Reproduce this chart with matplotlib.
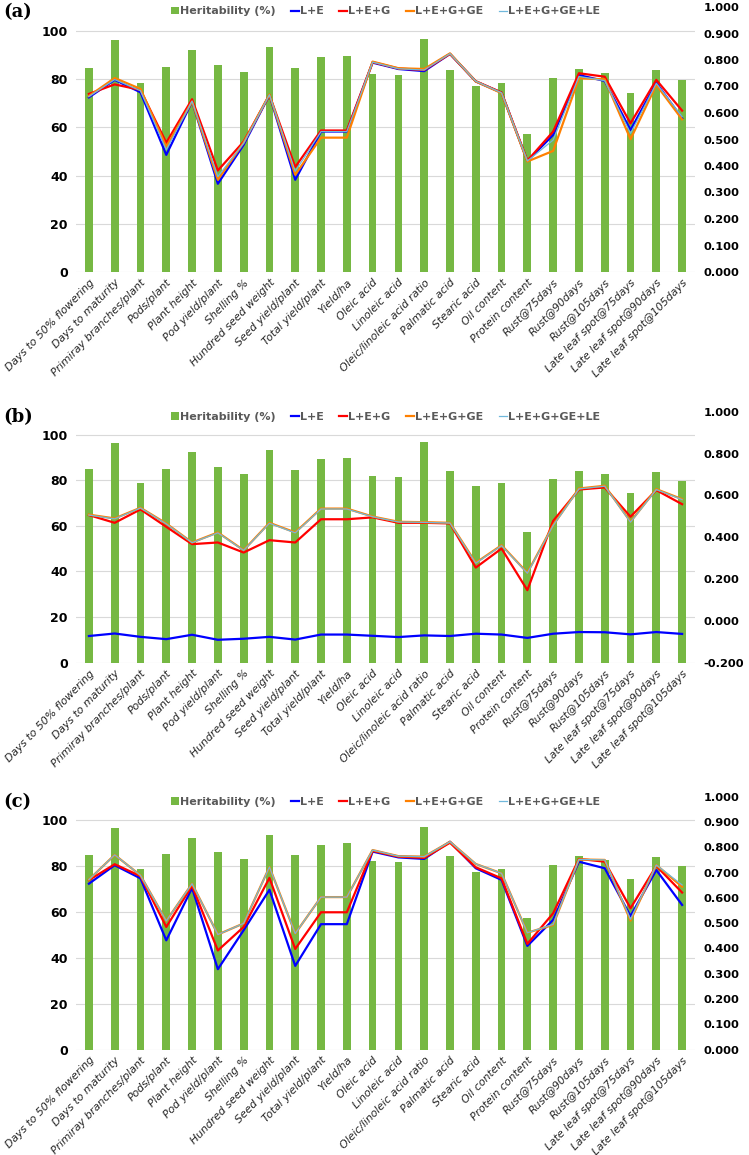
import numpy as np
import matplotlib
matplotlib.use("Agg")
import matplotlib.pyplot as plt
from matplotlib.ticker import FixedLocator, FormatStrFormatter

# Traits (x axis)
traits = ["Days to 50% flowering", "Days to maturity", "Primiray branches/plant",
          "Pods/plant", "Plant height", "Pod yield/plant", "Shelling %",
          "Hundred seed weight", "Seed yield/plant", "Total yield/plant", "Yield/ha",
          "Oleic acid", "Linoleic acid", "Oleic/linoleic acid ratio", "Palmatic acid",
          "Stearic acid", "Oil content", "Protein content", "Rust@75days",
          "Rust@90days", "Rust@105days", "Late leaf spot@75days",
          "Late leaf spot@90days", "Late leaf spot@105days"]

# Heritability (%) - same in every panel
heritability = [84.7, 96.5, 78.6, 84.9, 92.2, 85.8, 82.9, 93.4, 84.5, 89.2, 89.8, 82.0,
                81.6, 96.7, 84.0, 77.4, 78.6, 57.3, 80.4, 84.1, 82.6, 74.4, 83.8, 79.7]

# panel (a)
a_le = [0.659, 0.725, 0.678, 0.442, 0.643, 0.333, 0.480, 0.668, 0.348, 0.530, 0.530, 0.790,
        0.766, 0.758, 0.823, 0.719, 0.677, 0.419, 0.517, 0.743, 0.721, 0.536, 0.714, 0.580]
a_leg = [0.672, 0.708, 0.687, 0.488, 0.652, 0.383, 0.492, 0.668, 0.396, 0.534, 0.534, 0.792,
         0.768, 0.762, 0.823, 0.720, 0.677, 0.420, 0.530, 0.750, 0.737, 0.561, 0.725, 0.609]
a_legge = [0.664, 0.732, 0.691, 0.473, 0.643, 0.348, 0.488, 0.670, 0.367, 0.507, 0.507, 0.794,
           0.769, 0.766, 0.825, 0.719, 0.675, 0.417, 0.457, 0.731, 0.727, 0.501, 0.706, 0.576]
a_leggele = [0.662, 0.726, 0.684, 0.461, 0.645, 0.360, 0.486, 0.669, 0.380, 0.530, 0.530, 0.792,
             0.767, 0.762, 0.824, 0.720, 0.676, 0.419, 0.498, 0.738, 0.722, 0.523, 0.712, 0.586]

# panel (b)
b_le = [-0.072, -0.060, -0.076, -0.087, -0.066, -0.090, -0.085, -0.076, -0.089, -0.065, -0.065,
        -0.071, -0.077, -0.069, -0.072, -0.061, -0.065, -0.081, -0.061, -0.053, -0.054, -0.064,
        -0.053, -0.062]
b_leg = [0.506, 0.469, 0.533, 0.450, 0.367, 0.375, 0.327, 0.386, 0.375, 0.486, 0.486, 0.495,
         0.469, 0.469, 0.466, 0.255, 0.346, 0.147, 0.478, 0.628, 0.638, 0.498, 0.625, 0.558]
b_legge = [0.508, 0.490, 0.541, 0.466, 0.375, 0.423, 0.338, 0.469, 0.423, 0.537, 0.537, 0.499,
           0.474, 0.472, 0.469, 0.278, 0.362, 0.230, 0.458, 0.633, 0.646, 0.474, 0.630, 0.582]
b_leggele = [0.506, 0.488, 0.540, 0.464, 0.374, 0.421, 0.337, 0.467, 0.421, 0.535, 0.535, 0.498,
             0.473, 0.471, 0.468, 0.276, 0.360, 0.228, 0.456, 0.631, 0.644, 0.472, 0.628, 0.580]

# panel (c)
c_le = [0.656, 0.729, 0.677, 0.432, 0.639, 0.318, 0.472, 0.632, 0.331, 0.496, 0.496, 0.783,
        0.760, 0.754, 0.822, 0.717, 0.671, 0.410, 0.513, 0.743, 0.717, 0.528, 0.710, 0.572]
c_leg = [0.670, 0.733, 0.686, 0.485, 0.648, 0.392, 0.485, 0.679, 0.398, 0.543, 0.543, 0.786,
         0.763, 0.758, 0.818, 0.721, 0.677, 0.418, 0.539, 0.754, 0.743, 0.559, 0.726, 0.621]
c_legge = [0.672, 0.770, 0.689, 0.509, 0.656, 0.455, 0.499, 0.722, 0.459, 0.603, 0.603, 0.789,
           0.765, 0.763, 0.822, 0.734, 0.697, 0.462, 0.493, 0.752, 0.750, 0.510, 0.730, 0.644]
c_leggele = [0.672, 0.770, 0.689, 0.509, 0.656, 0.455, 0.499, 0.722, 0.459, 0.603, 0.603, 0.789,
             0.765, 0.763, 0.822, 0.734, 0.697, 0.462, 0.495, 0.752, 0.750, 0.515, 0.730, 0.651]

series_names = ["L+E", "L+E+G", "L+E+G+GE", "L+E+G+GE+LE"]
series_colors = ["#0000FF", "#FF0000", "#FF8000", "#70B8DC"]
series_lw = [1.6, 1.6, 1.6, 0.9]

panels = [
    ("(a)", [a_le, a_leg, a_legge, a_leggele], (0.0, 1.0), np.arange(0, 1.01, 0.1), 7, 272),
    ("(b)", [b_le, b_leg, b_legge, b_leggele], (-0.2, 1.0), np.arange(-0.2, 1.01, 0.2), 411.7, 662.8),
    ("(c)", [c_le, c_leg, c_legge, c_leggele], (0.0, 1.0), np.arange(0, 1.01, 0.1), 796.7, 1049.6),
]

W, H = 749, 1155
fig = plt.figure(figsize=(W / 100, H / 100), dpi=100)
x = np.arange(len(traits))

for label, series, rlim, rticks, top, bottom in panels:
    ax = fig.add_axes([76 / W, 1 - bottom / H, 619 / W, (bottom - top) / H])
    bars = ax.bar(x, heritability, width=0.3, color="#76B843", label="Heritability (%)", zorder=2)
    ax.set_xlim(-0.5, len(traits) - 0.5)
    ax.set_ylim(0, 110)
    ax.yaxis.set_major_locator(FixedLocator([0, 20, 40, 60, 80, 100]))
    ax.grid(axis="y", color="#D9D9D9", lw=0.8, zorder=0)
    ax.set_axisbelow(True)
    for s in ax.spines.values():
        s.set_visible(False)
    ax.tick_params(axis="both", length=0)
    ax.tick_params(axis="y", pad=6)
    for t in ax.get_yticklabels():
        t.set_fontweight("bold")
        t.set_fontsize(9)
    ax.set_xticks(x)
    ax.set_xticklabels(traits, rotation=46, ha="right", rotation_mode="anchor",
                       fontsize=7.8, style="italic", color="#262626")
    ax.tick_params(axis="x", pad=4)

    ax2 = ax.twinx()
    handles = [bars]
    for vals, name, col, lw in zip(series, series_names, series_colors, series_lw):
        ln, = ax2.plot(x, vals, color=col, lw=lw, label=name)
        handles.append(ln)
    ax2.set_ylim(*rlim)
    ax2.yaxis.set_major_locator(FixedLocator(rticks))
    ax2.yaxis.set_major_formatter(FormatStrFormatter("%.3f"))
    for s in ax2.spines.values():
        s.set_visible(False)
    ax2.tick_params(axis="y", length=0, pad=6)
    for t in ax2.get_yticklabels():
        t.set_fontweight("bold")
        t.set_fontsize(8.2)

    leg = ax2.legend(handles=handles, loc="upper center", bbox_to_anchor=(0.5, 1.04),
                     ncol=5, frameon=False, handlelength=0.7, handleheight=0.7,
                     handletextpad=0.1, columnspacing=1.4,
                     prop={"weight": "bold", "size": 8})
    for t in leg.get_texts():
        t.set_color("#595959")

    fig.text(3 / W, 1 - (top + 5) / H, label, fontsize=13, fontweight="bold",
             family="DejaVu Serif", va="center", ha="left")

fig.savefig("out.png", dpi=100)
